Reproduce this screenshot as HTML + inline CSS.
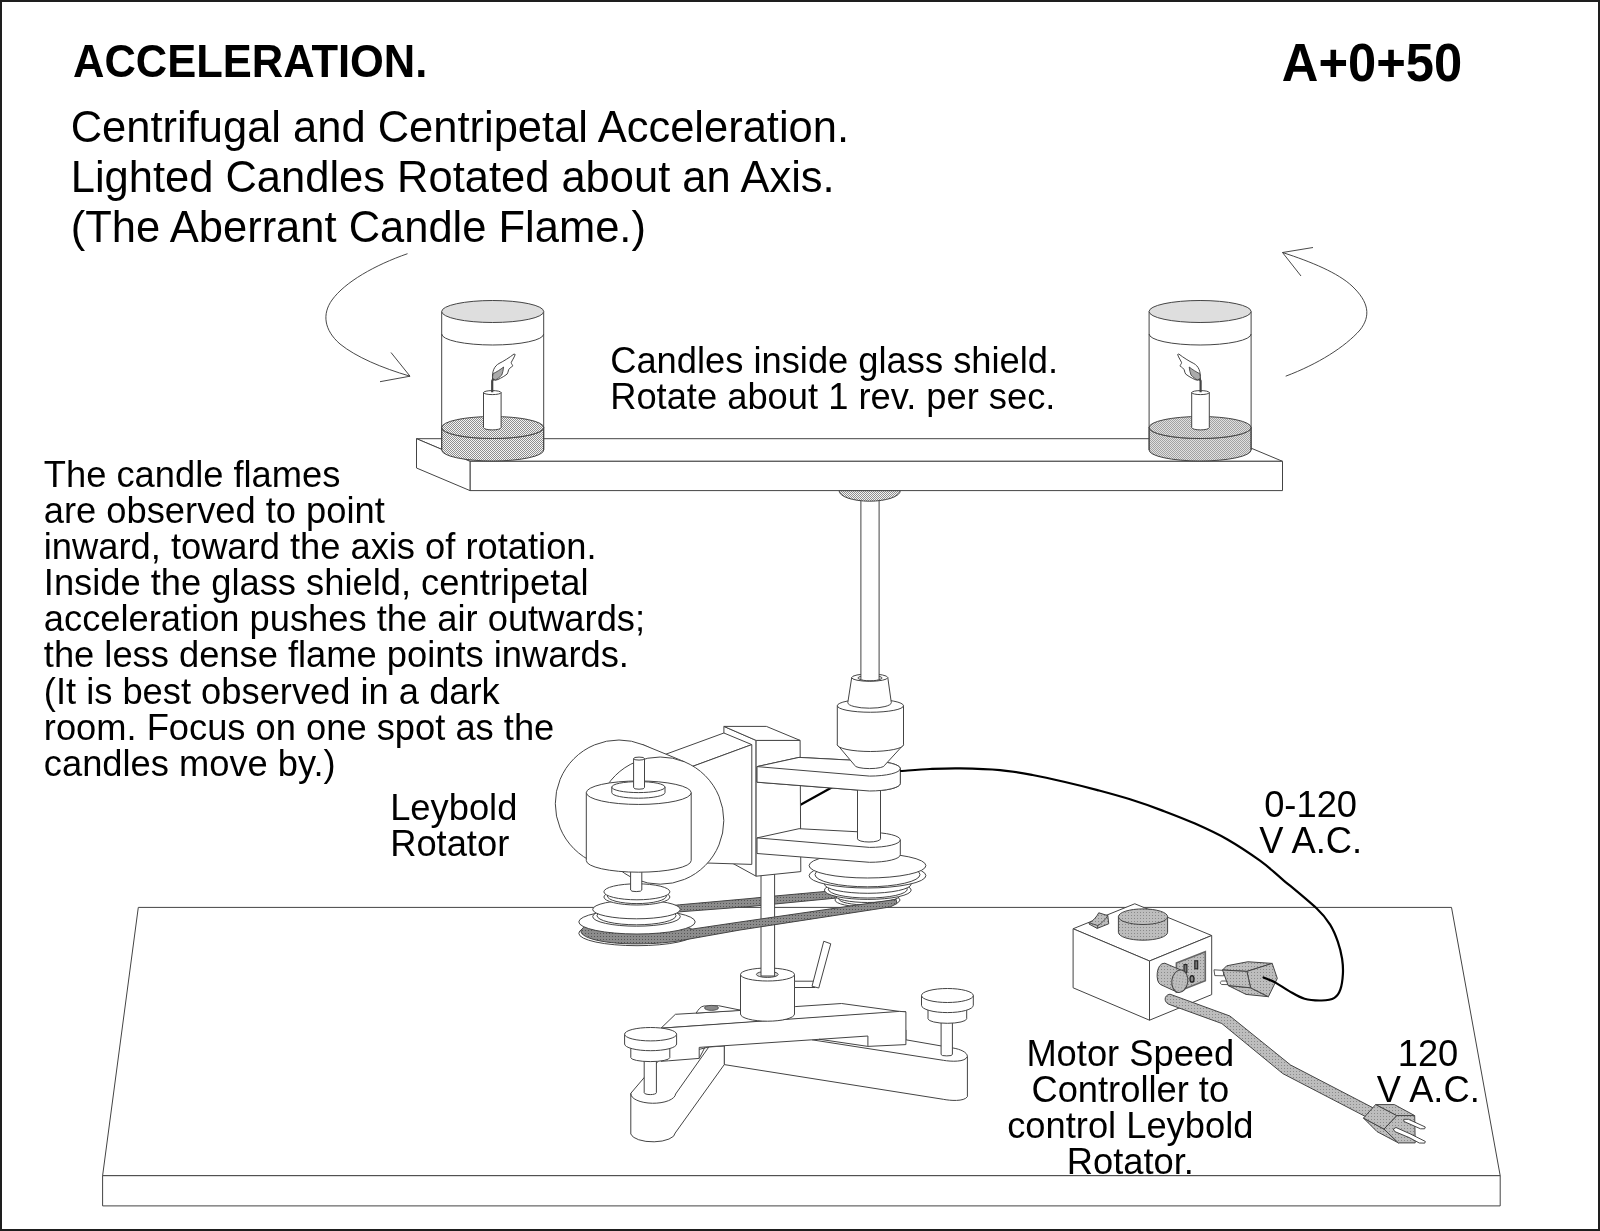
<!DOCTYPE html>
<html lang="en">
<head>
<meta charset="utf-8">
<title>A+0+50 Acceleration - Aberrant Candle Flame</title>
<style>
html,body{margin:0;padding:0;background:#fff;}
body{width:1600px;height:1231px;overflow:hidden;position:relative;font-family:"Liberation Sans",sans-serif;}
#frame{position:absolute;left:0;top:0;width:1600px;height:1231px;box-sizing:border-box;border-style:solid;border-color:#1e1e1e;border-width:2px 2px 2px 2px;z-index:5;pointer-events:none;}
svg{position:absolute;left:0;top:0;filter:grayscale(1);}
svg text{font-family:"Liberation Sans",sans-serif;fill:#000;font-kerning:normal;}
.t36{font-size:36.3px;}
.t43{font-size:43.5px;}
.ln{fill:none;stroke:#444;stroke-width:1;}
.w{fill:#fff;stroke:#444;stroke-width:1;stroke-linejoin:round;}
.wf{fill:#fff;stroke:none;}
.g1{fill:url(#dotL);stroke:#444;stroke-width:1;stroke-linejoin:round;}
.g3{fill:url(#dith);stroke:#444;stroke-width:1;stroke-linejoin:round;}
.g2{fill:url(#dotD);stroke:#444;stroke-width:1;stroke-linejoin:round;}
.wire{fill:none;stroke:#000;stroke-width:2.2;stroke-linecap:round;}
</style>
</head>
<body>
<svg width="1600" height="1231" viewBox="0 0 1600 1231">
<defs>
<pattern id="dotL" width="3" height="3" patternUnits="userSpaceOnUse"><rect width="3" height="3" fill="#bdbdbd"/><rect x="0" y="0" width="1" height="1" fill="#8a8a8a"/></pattern>
<pattern id="dotD" width="3" height="3" patternUnits="userSpaceOnUse"><rect width="3" height="3" fill="#8c8c8c"/><rect x="0" y="0" width="1" height="1" fill="#555"/></pattern>
<pattern id="dith" width="2" height="2" patternUnits="userSpaceOnUse"><rect width="2" height="2" fill="#f4f4f4"/><rect x="0" y="0" width="1" height="1" fill="#8e8e8e"/><rect x="1" y="1" width="1" height="1" fill="#8e8e8e"/></pattern>
</defs>

<!-- ============ TABLE ============ -->
<g id="table">
<polygon class="w" points="138.3,907.4 1451.5,907.4 1500.2,1175.7 102.6,1175.7"/>
<polygon class="w" points="102.6,1175.7 1500.2,1175.7 1500.2,1205.9 102.6,1205.9"/>
</g>

<!-- ============ TEXT ============ -->
<g id="labels">
<text transform="translate(73,77) scale(1,1.078)" font-size="43.5" font-weight="bold">ACCELERATION.</text>
<text transform="translate(1281.8,81.2) scale(1,1.045)" font-size="50.7" font-weight="bold">A+0+50</text>
<text class="t43" transform="translate(70.7,141.6) scale(1,1.03)">Centrifugal and Centripetal Acceleration.</text>
<text class="t43" transform="translate(70.7,191.9) scale(1,1.03)">Lighted Candles Rotated about an Axis.</text>
<text class="t43" transform="translate(70.7,242.3) scale(1,1.03)">(The Aberrant Candle Flame.)</text>
<text class="t36" x="610.2" y="372.7">Candles inside glass shield.</text>
<text class="t36" x="610.2" y="408.8">Rotate about 1 rev. per sec.</text>
<text class="t36" x="43.8" y="486.9">The candle flames</text>
<text class="t36" x="43.8" y="523.0">are observed to point</text>
<text class="t36" x="43.8" y="559.1">inward, toward the axis of rotation.</text>
<text class="t36" x="43.8" y="595.2">Inside the glass shield, centripetal</text>
<text class="t36" x="43.8" y="631.3">acceleration pushes the air outwards;</text>
<text class="t36" x="43.8" y="667.4">the less dense flame points inwards.</text>
<text class="t36" x="43.8" y="703.5">(It is best observed in a dark</text>
<text class="t36" x="43.8" y="739.6">room. Focus on one spot as the</text>
<text class="t36" x="43.8" y="775.7">candles move by.)</text>
<text class="t36" x="390.2" y="820.3">Leybold</text>
<text class="t36" x="390.2" y="856.4">Rotator</text>
<text class="t36" x="1310.6" y="816.8" text-anchor="middle">0-120</text>
<text class="t36" x="1310.6" y="852.6" text-anchor="middle">V A.C.</text>
<text class="t36" x="1428" y="1065.6" text-anchor="middle">120</text>
<text class="t36" x="1428.3" y="1101.6" text-anchor="middle">V A.C.</text>
<text class="t36" x="1130.3" y="1065.7" text-anchor="middle">Motor Speed</text>
<text class="t36" x="1130.3" y="1101.6" text-anchor="middle">Controller to</text>
<text class="t36" x="1130.3" y="1137.8" text-anchor="middle">control Leybold</text>
<text class="t36" x="1130.3" y="1173.7" text-anchor="middle">Rotator.</text>
</g>

<!-- ============ ROTATION ARROWS ============ -->
<g id="arrows" fill="none" stroke="#333" stroke-width="0.9">
<path d="M407.5,253.7 C375,265 345,282 332,300 C322,314 324,330 340,344 C356,357 382,368 410,376.2"/>
<path d="M391,352.5 L410,376.2 L380,381.7"/>
<path d="M1285.7,376.2 C1318,364 1345,347 1360,330 C1371,316 1369,302 1352,286 C1338,273 1312,262 1282.5,252.5"/>
<path d="M1313,247.5 L1282.5,252.5 L1301,276"/>
</g>
<!-- ============ TRIPOD ============ -->
<g id="tripod">
<!-- right leg -->
<path class="w" d="M724.25,1046 L724.25,1064.6 L943.3,1099.3 C950,1100.6 964,1101.8 967.4,1096.7 L967.4,1056.4 C967.2,1052.2 960.5,1049.3 953.1,1048 L905.9,1039.8 L905.9,1030 L800,1030 L724.25,1040 Z"/>
<path class="ln" d="M811.9,1039.8 L943.3,1060.3 C951,1061.6 965.5,1062.4 967.4,1056.4"/>
<!-- front-left leg -->
<path class="w" d="M630.8,1093.3 L630.8,1134 A22.3,9 0 0 0 675.2,1133 L724.25,1064.6 L724.25,1046 L708.8,1047 L660,1059 Z"/>
<path class="ln" d="M630.8,1093.3 A22.4,9.6 0 0 0 675.6,1094 L708.8,1047"/>
<!-- beam top -->
<polygon class="w" points="661,1028.2 675.4,1014.3 696.1,1013.1 795.2,1006.6 841.6,1003.5 899.4,1011.4 905.9,1011.8"/>
<!-- beam front -->
<path class="w" d="M661,1028.2 L899.4,1011.4 L905.9,1011.8 L905.9,1044.6 L867.9,1046.4 L867.9,1036 L811.9,1039.8 L699.2,1047.4 L699.2,1058.4 L668.6,1060.8 L661,1061.3 Z"/>
<path class="ln" d="M867.9,1046.4 L819,1039.2"/>
<path class="ln" d="M699.2,1058.4 L705,1047.1"/>
<!-- tab with hole -->
<path class="w" d="M696.1,1013.1 C698.5,1009.5 700.5,1006.4 704,1006 L718.5,1005.7 L741.6,1010.4 Z"/>
<ellipse cx="711.5" cy="1007.9" rx="7" ry="2.5" fill="#8a8a8a" stroke="#444" stroke-width="0.8"/>
<!-- centre cylinder -->
<path class="w" d="M740.5,974.5 L740.5,1014 A27,7.2 0 0 0 794.5,1014 L794.5,974.5 Z"/>
<ellipse class="w" cx="767.5" cy="974.5" rx="27" ry="6.5"/>
<ellipse class="ln" cx="767.3" cy="974.4" rx="10.9" ry="3" style="fill:#ddd"/>
<!-- lever -->
<polygon class="w" points="794.5,981.2 815,981.2 815,987.5 794.5,987.5"/>
<polygon class="w" points="823.75,941.25 830.75,943.75 818.75,988 812,986.25"/>
<!-- left knob -->
<path class="w" d="M644.2,1058 L644.2,1092.7 A6.1,1.9 0 0 0 656.4,1092.7 L656.4,1058 Z"/>
<path class="w" d="M630.8,1046 L630.8,1057.6 A19.5,4 0 0 0 669.8,1057.6 L669.8,1046 Z"/>
<path class="w" d="M624.6,1034.2 L624.6,1044 A26,6.7 0 0 0 676.6,1044 L676.6,1034.2 Z"/>
<ellipse class="w" cx="650.6" cy="1034.2" rx="26" ry="6.7"/>
<!-- right knob -->
<path class="w" d="M941.1,1020 L941.1,1054.5 A5.65,1.4 0 0 0 952.4,1054.5 L952.4,1020 Z"/>
<path class="w" d="M928,1008 L928,1018.7 A19.35,4.6 0 0 0 966.7,1018.7 L966.7,1008 Z"/>
<path class="w" d="M921.5,995.5 L921.5,1005.3 A25.9,7.3 0 0 0 973.3,1005.3 L973.3,995.5 Z"/>
<ellipse class="w" cx="947.4" cy="995.5" rx="25.9" ry="7"/>
</g>
<!-- ============ ROTATOR ============ -->
<g id="rotator">
<!-- far (upper) belt strand -->
<polygon class="g2" points="655,907.5 679.4,904.8 750,898.5 775,896 825,891.5 845,889.8 845,897.4 835,898.2 775,904 750,906.5 680,911.8 655,914.5"/>
<!-- vertical post -->
<rect class="w" x="761" y="868" width="13.6" height="108"/>
<!-- wire stub behind block/arm -->
<path class="wire" stroke-width="3" d="M792,809.5 L838,784"/>

<!-- ===== right stepped pulley ===== -->
<g id="pulR">
<ellipse class="w" cx="867.5" cy="900" rx="32.5" ry="7"/>
<ellipse class="w" cx="867.5" cy="899" rx="28.5" ry="6"/>
<ellipse class="w" cx="867.5" cy="895.5" rx="32.5" ry="7"/>
<ellipse class="w" cx="867.8" cy="890.1" rx="43.4" ry="9.3"/>
<ellipse class="w" cx="867.8" cy="889.2" rx="39.5" ry="8.8"/>
<ellipse class="w" cx="867.8" cy="884" rx="43.4" ry="9.3"/>
<ellipse class="w" cx="867.5" cy="875.6" rx="58.4" ry="12.4"/>
<ellipse class="w" cx="867.5" cy="874.6" rx="52.5" ry="12.2"/>
<ellipse class="w" cx="867.5" cy="865.6" rx="58.4" ry="12.4"/>
</g>

<!-- ===== left stepped pulley + belt ===== -->
<g id="pulL">
<ellipse class="w" cx="637" cy="933.3" rx="58.2" ry="12.4"/>
<!-- belt loop and near strand -->
<path class="g2" d="M583.5,927.5 A54,12.6 0 0 0 637,943.9 C655,943.9 672,942.3 683.8,940 L740,930 L890,907 L897,903.5 L896,899.4 L740,922 L690,929.4 L684,922 L583.5,921 Z"/>
<ellipse class="w" cx="637" cy="921.9" rx="58.2" ry="12.1"/>
<ellipse class="w" cx="636.5" cy="916.6" rx="43.8" ry="9.6"/>
<ellipse class="w" cx="636.5" cy="915.6" rx="39.5" ry="9.2"/>
<ellipse class="w" cx="636.5" cy="909.4" rx="43.8" ry="9.4"/>
<ellipse class="w" cx="636.9" cy="897" rx="33" ry="8"/>
<ellipse class="w" cx="636.9" cy="896" rx="29.5" ry="7.6"/>
<ellipse class="w" cx="636.9" cy="891.8" rx="33" ry="8"/>
</g>

<!-- ===== block ===== -->
<polygon class="w" points="723.9,726.4 756.1,740.4 756.1,876.2 723.9,858.5"/>
<polygon class="w" points="756.1,740.4 800.1,740.4 800.8,871.6 756.1,876.2"/>
<polygon class="w" points="723.9,726.4 766.4,726.4 800.1,740.4 756.1,740.4"/>
<!-- motor box -->
<polygon class="w" points="751.8,744.6 723.9,733 650,760 680,771"/>
<polygon class="w" points="751.8,744.6 751.8,864.4 700,862.8 680,771"/>
<!-- motor cylinder: back circle, tangent fill, front circle -->
<circle class="w" cx="619" cy="803.7" r="63.7"/>
<polygon class="wf" points="643.2,744.8 684.4,761.7 636,880 595,863"/>
<line class="ln" x1="642.5" y1="744.5" x2="684.8" y2="761.9"/>
<circle class="w" cx="660.2" cy="820.6" r="63.6"/>
<path class="w" d="M630.6,868 L630.6,890 A5.6,1.6 0 0 0 641.8,890 L641.8,868 Z"/>
<!-- drum -->
<path class="w" d="M586.3,792.7 L586.3,860.6 A52.45,11.6 0 0 0 691.2,860.6 L691.2,792.7 Z"/>
<ellipse class="w" cx="638.75" cy="792.7" rx="52.45" ry="11.75"/>
<path class="w" d="M611.8,787.1 L611.8,792.6 A26.6,5.6 0 0 0 665,792.6 L665,787.1 Z"/>
<ellipse class="w" cx="638.4" cy="787.1" rx="26.6" ry="5.5"/>
<path class="w" d="M633.6,758.6 L633.6,787.6 A5.45,1.6 0 0 0 644.5,787.6 L644.5,758.6 Z"/>
<ellipse class="w" cx="639.05" cy="758.6" rx="5.45" ry="1.5"/>

<!-- ===== lower arm, shaft, upper arm ===== -->
<g id="armU">
<path class="w" d="M757,766.6 L799,757.4 L869.5,761.1 A30.8,7.5 0 0 1 900.3,768.6 L900.3,783.5 A30.8,7.5 0 0 1 869.5,791 L757,782.2 Z"/>
<path class="ln" d="M757,766.6 L869.5,776.1 A30.8,7.5 0 0 0 900.3,768.6"/>
</g>
<use href="#armU" transform="translate(0,71.3)"/>
<path class="w" d="M857.5,786 L857.5,838.8 A11.5,3.2 0 0 0 880.5,838.8 L880.5,786 Z"/>
<use href="#armU"/>

<!-- ===== chuck ===== -->
<path class="w" d="M837.3,744.7 L854.6,765.2 A15.05,3.4 0 0 0 884.7,765.2 L903.5,744.7 Z"/>
<path class="w" d="M837.3,705.75 L837.3,744.7 A33.1,6.8 0 0 0 903.5,744.7 L903.5,705.75 Z"/>
<ellipse class="w" cx="870.4" cy="705.75" rx="33.1" ry="6.5"/>
<path class="w" d="M851.7,677.6 L847.8,702.6 A21.75,5.6 0 0 0 891.3,702.6 L887.8,677.6 Z"/>
<ellipse class="w" cx="869.75" cy="677.6" rx="18.05" ry="3.7"/>
<ellipse class="ln" cx="870" cy="678" rx="12.2" ry="2.4"/>
<!-- rod -->
<path class="w" d="M860.9,496 L860.9,679.2 A9.1,1.6 0 0 0 879.1,679.2 L879.1,496 Z"/>
<path class="g3" d="M839,490.6 A30.65,10.6 0 0 0 900.3,490.6 Z"/>
</g>
<!-- ============ BAR + JARS ============ -->
<g id="bar">
<!-- flange under bar + rod drawn in rotator group -->
<polygon class="w" points="416.5,438.7 1228.5,438.7 1282.5,461.3 470,461.3"/>
<polygon class="w" points="470,461.3 1282.5,461.3 1282.5,490.6 470,490.6"/>
<polygon class="w" points="416.5,438.7 470,461.3 470,490.6 416.5,468"/>
<g id="jarL">
<!-- dotted base -->
<path class="g3" d="M441.7,427.5 L441.7,450 A51,11 0 0 0 543.7,450 L543.7,427.5 A51,11 0 0 1 441.7,427.5 Z"/>
<ellipse class="g3" cx="492.7" cy="427.5" rx="51" ry="11"/>
<!-- candle -->
<path class="w" d="M483.5,392.6 L483.5,427.6 A8.8,2.3 0 0 0 501.1,427.6 L501.1,392.6 Z"/>
<ellipse class="w" cx="492.3" cy="392.6" rx="8.8" ry="2"/>
<!-- flame -->
<path class="w" stroke-width="0.9" d="M492.6,379.5 C491.8,371 494.5,366 499,363.5 C504,361 509.5,357.5 514,354 L515.2,354.5 C514,358 512,360.5 511.2,362.7 C511.4,364.2 513,365 512.6,366.2 C510.5,367.5 509.3,368.5 508.6,369.8 C508.2,371.5 507.8,373 507.1,374.1 C505,375.8 502.5,377.2 500.6,378.2 C498.8,379.3 497,380 495.5,380.2 Z"/>
<path d="M492.6,379.3 C492.4,377 492.8,375 493.2,373.6 C496.5,372 500.5,369.5 503.6,367 C503.4,370 502.6,372.8 501.8,375 C499.8,377 497.6,379 495.6,379.8 Z" fill="#aaa" stroke="#333" stroke-width="0.8"/>
<path d="M492.2,392.2 L492.2,381 L493.4,378.6" fill="none" stroke="#444" stroke-width="2.2"/>
<!-- glass -->
<line class="ln" x1="441.7" y1="311.5" x2="441.7" y2="450"/>
<line class="ln" x1="543.7" y1="311.5" x2="543.7" y2="450"/>
<path class="ln" d="M441.7,334 A51,11 0 0 0 543.7,334"/>
<ellipse cx="492.7" cy="311.5" rx="51" ry="11" fill="#dedede" stroke="#444" stroke-width="1"/>
</g>
<use href="#jarL" transform="translate(1692.8,0) scale(-1,1)"/>
</g>
<!-- ============ CONTROLLER ============ -->
<g id="controller">
<!-- box -->
<polygon class="w" points="1134.8,903.75 1211.7,935.5 1149.5,961 1073.1,928.75"/>
<polygon class="w" points="1073.1,928.75 1149.5,961 1149.5,1020.2 1073.1,987.8"/>
<polygon class="w" points="1149.5,961 1211.7,935.5 1211.7,994.6 1149.5,1020.2"/>
<!-- dial -->
<path class="g1" d="M1118.4,916.7 L1118.4,932.3 A24.6,7.9 0 0 0 1167.6,932.3 L1167.6,916.7 Z"/>
<ellipse class="g1" cx="1143" cy="916.7" rx="24.6" ry="7.8"/>
<!-- switch -->
<path class="g1" d="M1089.4,922.8 L1089,924 L1097.2,928.4 L1108.75,923.75 L1107.8,915.6 L1098.75,912.8 C1096.5,917 1093.5,920.5 1089.4,922.8 Z"/>
<path class="ln" d="M1107.8,915.6 C1105.5,919.5 1102,923 1097.8,925.6 L1089.4,922.8 M1097.8,925.6 L1097.2,928.4" style="stroke-width:.9"/>
<!-- outlet plate -->
<polygon points="1176.4,963 1205.3,951.7 1205.3,980.8 1176.4,992.1" fill="url(#dotL)" stroke="#666" stroke-width="1.6"/>
<rect x="1184" y="964.6" width="2.9" height="7.8" fill="#777" stroke="#222" stroke-width="1.1"/>
<rect x="1194.8" y="960.8" width="2.9" height="8" fill="#777" stroke="#222" stroke-width="1.1"/>
<ellipse cx="1192" cy="978.9" rx="2" ry="3.3" fill="#888" stroke="#222" stroke-width="1.3"/>
<!-- fuse knob -->
<path class="g1" d="M1164.8,963.2 C1156,962.5 1155,982 1160.5,984.5 L1177.5,992.3 L1181.3,970.2 Z"/>
<ellipse class="g1" cx="1179.8" cy="981.2" rx="8" ry="11.3" transform="rotate(8 1179.8 981.2)"/>
<!-- cord -->
<path class="g1" d="M1170,994.2 L1229.9,1016 L1290.6,1065 L1373.4,1108 L1365.6,1116.6 L1282.8,1073.6 L1221.8,1023.5 L1170,1004.7 C1163.5,1003 1163.5,995 1170,994.2 Z"/>
<!-- plug 2 (120 V) -->
<g id="plug2">
<polygon class="g1" points="1363.5,1118.1 1384,1129.1 1398.4,1142.9 1377,1131.6"/>
<polygon class="g1" points="1375.6,1104.6 1394.4,1104.6 1414.7,1115.6 1396.7,1115.6"/>
<polygon class="g1" points="1396.7,1115.6 1414.7,1115.6 1415.2,1142.9 1398.4,1142.9 1384,1129.1"/>
<polygon class="g1" points="1363.5,1118.1 1375.6,1104.6 1396.7,1115.6 1384,1129.1"/>
<polygon points="1403.8,1119.3 1408.5,1119.3 1425.3,1127 1424.6,1128.8 1420.5,1128.8 1403.8,1121.4" fill="#fff" stroke="#333" stroke-width="0.9"/>
<polygon points="1393.3,1129 1396,1127.5 1410.5,1134 1425.3,1141.4 1424.8,1143.1 1419.3,1143 1409,1137.5 1394.8,1131.6" fill="#fff" stroke="#333" stroke-width="0.9"/>
</g>
<!-- plug 1 (0-120 V) -->
<g id="plug1">
<polygon points="1214,969.8 1223.6,970.4 1223.6,975.8 1214.8,975.6" fill="#fff" stroke="#444" stroke-width="0.9"/>
<path d="M1228,981 L1222,981 C1219.8,981.2 1219.8,984.3 1222,984.5 L1228,984.6 Z" fill="#fff" stroke="#444" stroke-width="0.9"/>
<polygon class="g1" points="1228.1,985.5 1250.6,987.8 1268.4,996.7 1246,994.4"/>
<polygon class="g1" points="1222.5,970 1226.7,965.8 1247.8,961.75 1272.2,963.4 1246.9,971.4"/>
<polygon class="g1" points="1246.9,971.4 1272.2,963.4 1277.3,978.4 1268.4,996.7 1250.6,987.8"/>
<polygon class="g1" points="1222.5,970 1246.9,971.4 1250.6,987.8 1228.1,985.5"/>
</g>
<!-- wire to controller -->
<path class="wire" d="M901,771 C905.8,770.7 920.2,769.4 930,769 C939.8,768.6 948.3,768.2 960,768.4 C971.7,768.6 987.9,769.0 1000,770.1 C1012.1,771.2 1021.7,773.0 1032.5,775 C1043.3,777.0 1054.2,779.5 1065,782 C1075.8,784.5 1086.7,787.2 1097.5,790.1 C1108.3,793.0 1119.2,795.9 1130,799.3 C1140.8,802.7 1151.7,806.5 1162.5,810.6 C1173.3,814.7 1184.2,818.8 1195,823.6 C1205.8,828.4 1216.7,833.3 1227.5,839.5 C1238.3,845.7 1250.8,854.1 1260,860.7 C1269.2,867.3 1273.0,871.4 1282.4,879.3 C1291.8,887.2 1308.5,900.8 1316.5,908.3 C1324.5,915.8 1326.5,919.0 1330.1,924.6 C1333.6,930.2 1335.8,935.9 1337.8,941.6 C1339.8,947.3 1341.2,953.3 1342.1,958.7 C1342.9,964.1 1343.2,968.9 1342.9,974 C1342.6,979.1 1341.8,985.4 1340.4,989.4 C1339.0,993.4 1337.5,996.0 1334.4,997.9 C1331.3,999.8 1326.6,1000.4 1321.6,1000.5 C1316.6,1000.6 1310.0,1000.4 1304.6,998.8 C1299.2,997.2 1294.0,993.8 1289.2,991.1 C1284.4,988.4 1279.8,984.9 1275.5,982.6 C1271.2,980.3 1265.6,978.3 1263.6,977.4"/>
</g>
</svg>
<div id="frame"></div>
</body>
</html>
